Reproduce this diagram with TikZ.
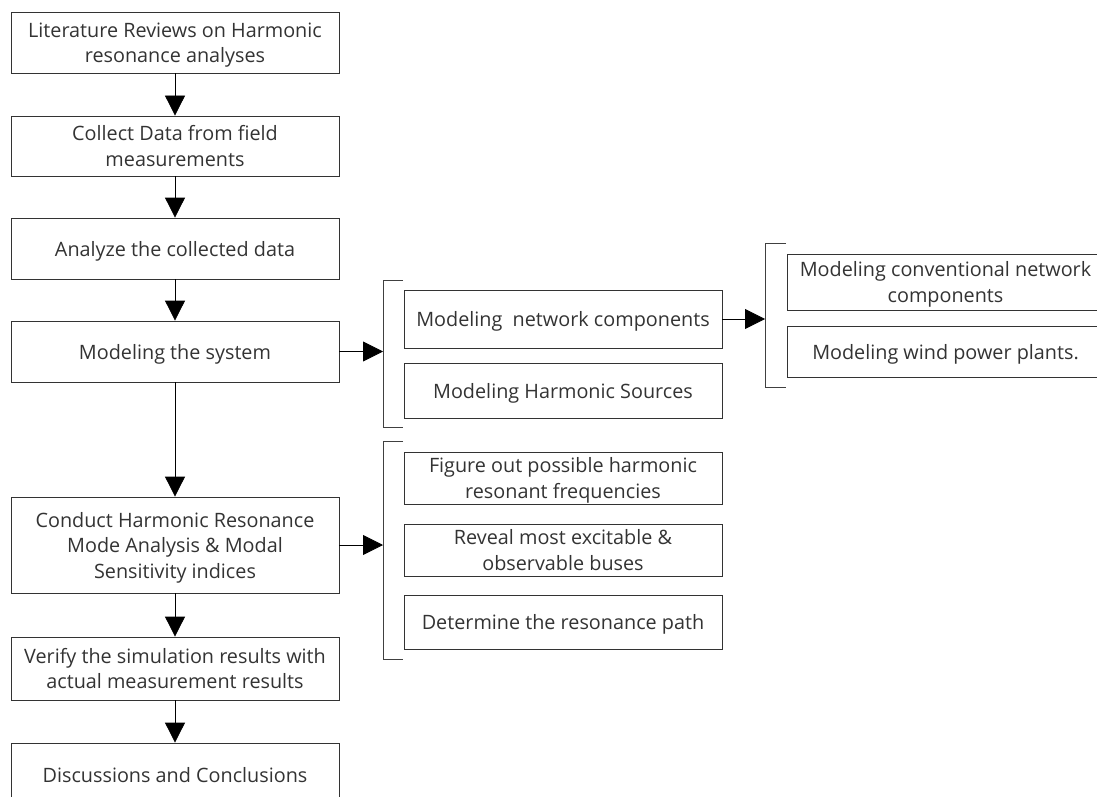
\documentclass[tikz,border=0pt]{standalone}
\usepackage{fontspec}
\setmainfont{Open Sans}
\usetikzlibrary{arrows.meta}
\begin{document}
\begin{tikzpicture}[x=1pt,y=-1pt,
  box/.style={draw=black!80, line width=0.8pt, text=black!80, align=center,
    inner sep=0pt, text depth=0pt, font=\fontsize{19.8}{25.5}\selectfont},
  mainbox/.style={box, minimum width=328pt},
  subbox/.style={box, minimum width=318pt},
  farbox/.style={box, minimum width=317pt},
  flow/.style={draw=black, line width=0.8pt, -{Triangle[length=20pt,width=20pt]}},
  bracket/.style={draw=black!75, line width=0.8pt}]
\useasboundingbox (0,0) rectangle (1097,797);
\clip (0,0) rectangle (1097,797);

% main sequence of steps
\node[mainbox, minimum height=61pt] (b1) at (175,42.5) {Literature Reviews on Harmonic\\resonance analyses};
\node[mainbox, minimum height=60pt] (b2) at (175,146) {Collect Data from field\\measurements};
\node[mainbox, minimum height=61pt] (b3) at (175,248.5) {Analyze the collected data};
\node[mainbox, minimum height=61pt] (b4) at (175,351.5) {Modeling the system};
\node[mainbox, minimum height=96pt] (b5) at (175,545) {Conduct Harmonic Resonance\\Mode Analysis \& Modal\\Sensitivity indices};
\node[mainbox, minimum height=63pt] (b6) at (175,668.5) {Verify the simulation results with\\actual measurement results};
\node[mainbox, minimum height=64pt] (b7) at (175,775) {Discussions and Conclusions};

% system modelling sub-steps
\node[subbox, minimum height=58pt] (m1) at (563,319) {Modeling\ \ network components};
\node[subbox, minimum height=55pt] (m2) at (563,390.5) {Modeling Harmonic Sources};

% network component modelling
\node[farbox, minimum height=56pt] (r1) at (945.5,282) {Modeling conventional network\\components};
\node[farbox, minimum height=51pt] (r2) at (945.5,351.5) {Modeling wind power plants.};

% analysis sub-steps
\node[subbox, minimum height=52pt] (g1) at (563,478) {Figure out possible harmonic\\resonant frequencies};
\node[subbox, minimum height=52pt] (g2) at (563,550) {Reveal most excitable \&\\observable buses};
\node[subbox, minimum height=54pt] (g3) at (563,622) {Determine the resonance path};

% group brackets
\draw[bracket] (403,280) -- (383,280) -- (383,427) -- (403,427);
\draw[bracket] (786,243) -- (765,243) -- (765,387) -- (786,387);
\draw[bracket] (403,441) -- (383,441) -- (383,659) -- (403,659);
\coordinate (ga) at (383,351.5);
\coordinate (gb) at (765,319);
\coordinate (gc) at (383,545);

% connectors
\draw[flow] (b1) -- (b2);
\draw[flow] (b2) -- (b3);
\draw[flow] (b3) -- (b4);
\draw[flow] (b4) -- (b5);
\draw[flow] (b5) -- (b6);
\draw[flow] (b6) -- (b7);
\draw[flow] (b4.east) -- (ga);
\draw[flow] (m1.east) -- (gb);
\draw[flow] (b5.east) -- (gc);
\end{tikzpicture}
\end{document}
